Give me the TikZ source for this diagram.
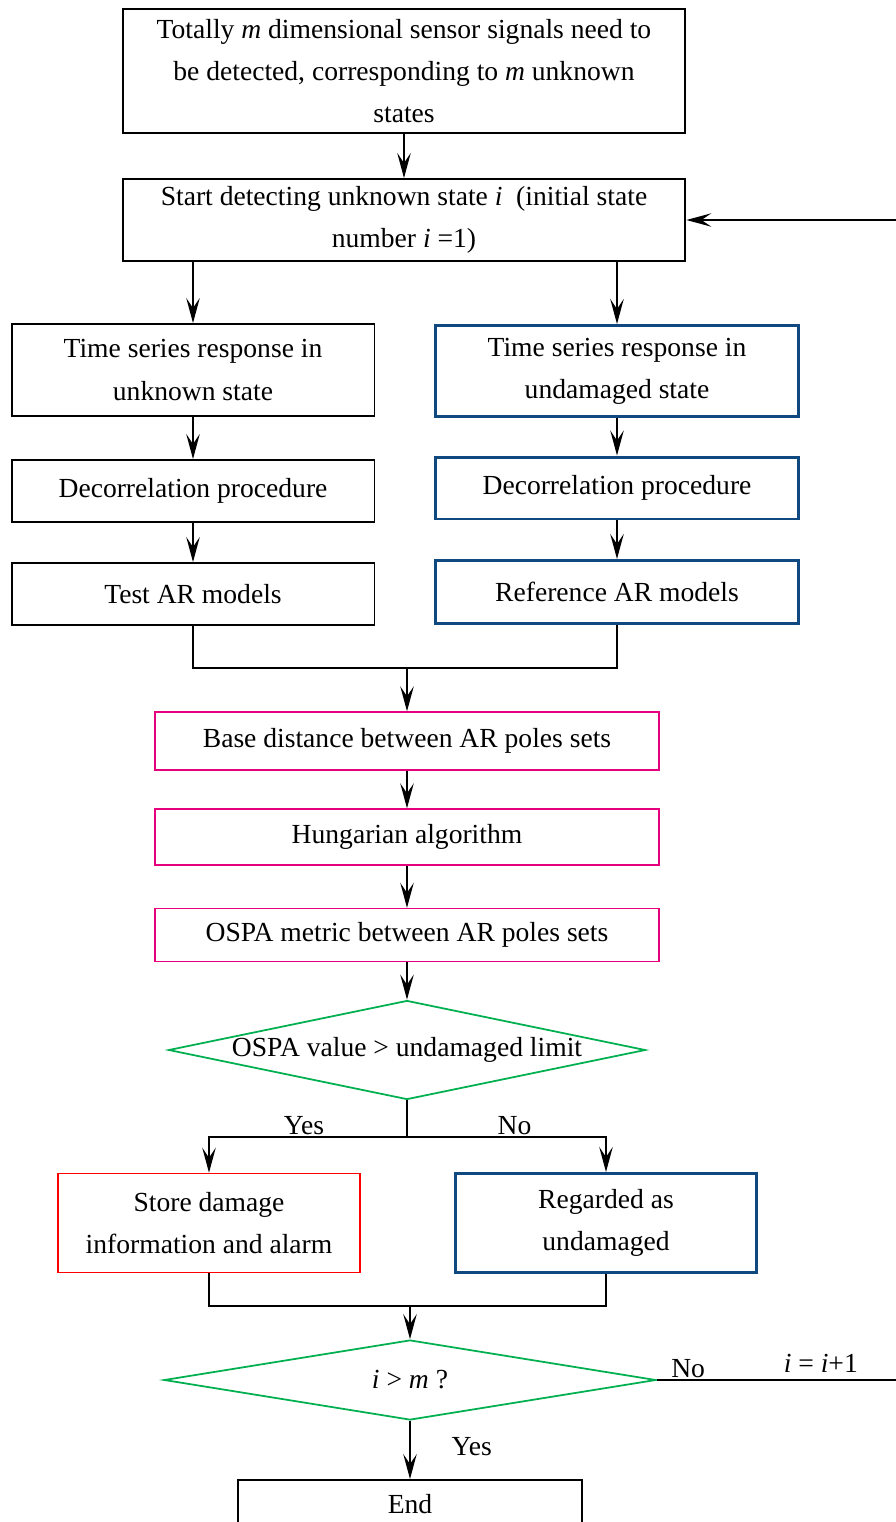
\documentclass[tikz,border=0pt]{standalone}
\usepackage{fontspec}
\setmainfont{Liberation Serif}
\usetikzlibrary{shapes.geometric, arrows.meta, positioning, calc}
\definecolor{refblue}{RGB}{16,72,128}
\definecolor{polepink}{RGB}{230,0,126}
\definecolor{checkgreen}{RGB}{0,176,80}

\begin{document}
\begin{tikzpicture}[
    x=0.02cm, y=-0.02cm,
    font=\fontsize{15.7}{24}\selectfont,
    box/.style={rectangle, draw=black, line width=1.1pt, align=center, inner sep=2pt},
    bluebox/.style={box, draw=refblue, line width=1.7pt},
    pinkbox/.style={box, draw=polepink, line width=0.8pt, minimum width=10.08cm},
    decision/.style={diamond, draw=checkgreen, line width=1pt, inner sep=0pt},
    arrow/.style={-{Stealth[length=0.5cm, width=0.27cm, inset=0.2cm]}, line width=0.9pt, draw=black},
    link/.style={line width=0.9pt, draw=black},
    tag/.style={inner sep=1pt}
]
    \useasboundingbox (0,0) rectangle (896,1522);

    \node (total) [box, minimum width=11.26cm, minimum height=2.48cm] at (404,71) {Totally \textit{m} dimensional sensor signals need to\\be detected, corresponding to \textit{m} unknown\\states};
    \node (start) [box, minimum width=11.26cm, minimum height=1.64cm] at (404,220) {Start detecting unknown state \textit{i}~ (initial state\\number \textit{i} =1)};

    % unknown state branch
    \node (tsunk) [box, minimum width=7.26cm, minimum height=1.84cm] at (193,370) {Time series response in\\unknown state};
    \node (decunk) [box, minimum width=7.26cm, minimum height=1.24cm] at (193,491) {Decorrelation procedure};
    \node (test) [box, minimum width=7.26cm, minimum height=1.24cm] at (193,594) {Test AR models};

    % undamaged state branch
    \node (tsund) [bluebox, minimum width=7.28cm, minimum height=1.82cm] at (617,371) {Time series response in\\undamaged state};
    \node (decund) [bluebox, minimum width=7.28cm, minimum height=1.24cm] at (617,488) {Decorrelation procedure};
    \node (ref) [bluebox, minimum width=7.28cm, minimum height=1.26cm] at (617,592) {Reference AR models};

    \node (base) [pinkbox, minimum height=1.16cm] at (407,741) {Base distance between AR poles sets};
    \node (hung) [pinkbox, minimum height=1.12cm] at (407,837) {Hungarian algorithm};
    \node (ospa) [pinkbox, minimum height=1.06cm] at (407,935) {OSPA metric between AR poles sets};

    \node (limit) [decision, minimum width=9.54cm, minimum height=1.98cm] at (407,1050) {\makebox[0pt]{OSPA value > undamaged limit}};

    \node (store) [box, draw=red, line width=0.9pt, minimum width=6.04cm, minimum height=1.98cm] at (209,1223) {Store damage\\information and alarm};
    \node (undam) [bluebox, minimum width=6.04cm, minimum height=1.98cm] at (606,1223) {Regarded as\\undamaged};

    \node (last) [decision, minimum width=9.84cm, minimum height=1.6cm] at (410,1380) {\makebox[0pt]{\textit{i} > \textit{m} ?}};
    \node (finish) [box, minimum width=6.88cm, minimum height=0.96cm] at (410,1504) {End};

    \coordinate (join1) at (base.north |- 0,668);
    \coordinate (split) at (limit.south |- 0,1137);
    \coordinate (join2) at (last.north |- 0,1306);
    \coordinate (loop) at (898,1380);

    \draw [arrow] (total) -- (start);
    \draw [arrow] (start.south -| tsunk.north) -- (tsunk.north);
    \draw [arrow] (start.south -| tsund.north) -- (tsund.north);
    \draw [arrow] (tsunk) -- (decunk);
    \draw [arrow] (decunk) -- (test);
    \draw [arrow] (tsund) -- (decund);
    \draw [arrow] (decund) -- (ref);
    \draw [link] (test.south) |- (join1) -| (ref.south);
    \draw [arrow] (join1) -- (base.north);
    \draw [arrow] (base) -- (hung);
    \draw [arrow] (hung) -- (ospa);
    \draw [arrow] (ospa) -- (limit);
    \draw [link] (limit.south) -- (split);
    \draw [arrow] (split) -| node[pos=0.26, above, tag] {Yes} (store.north);
    \draw [arrow] (split) -| node[pos=0.27, above, tag] {No} (undam.north);
    \draw [link] (store.south) |- (join2) -| (undam.south);
    \draw [arrow] (join2) -- (last.north);
    \draw [arrow] (last.south) -- node[pos=0.45, right=0.7cm] {Yes} (finish.north);
    \draw [arrow] (last.east) -- node[pos=0.13, above, tag] {No} node[pos=0.68, above, inner sep=4pt] {\textit{i} = \textit{i}+1} (loop) |- (start.east);
\end{tikzpicture}
\end{document}
